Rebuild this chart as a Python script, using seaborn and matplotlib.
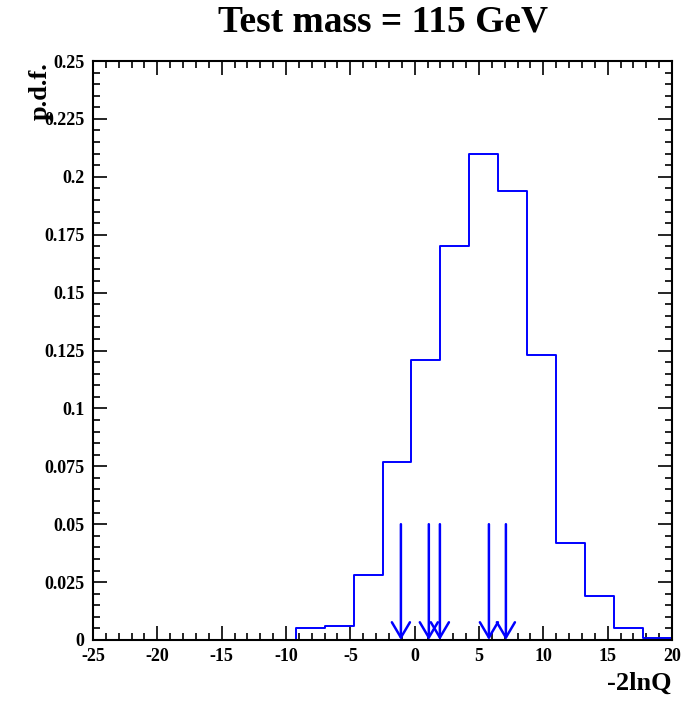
import numpy as np
import pandas as pd
import matplotlib
matplotlib.use("Agg")
import matplotlib.pyplot as plt
from matplotlib.ticker import MultipleLocator
import seaborn as sns

# histogram of -2lnQ, 20 bins from -25 to 20
bin_edges = list(np.linspace(-25, 20, 21))
pdf_values = [0, 0, 0, 0, 0, 0, 0, 0.005, 0.006, 0.028,
              0.077, 0.121, 0.170, 0.210, 0.194, 0.123, 0.042, 0.019, 0.005, 0.001]
# observed values marked with arrows
observed = [-1.07, 1.1, 1.96, 5.77, 7.09]

sns.set_style("ticks")
plt.rcParams['font.family'] = ['Liberation Serif', 'DejaVu Serif']
plt.rcParams['font.weight'] = 'bold'
plt.rcParams['text.color'] = 'black'
plt.rcParams['xtick.color'] = 'black'
plt.rcParams['ytick.color'] = 'black'
plt.rcParams['axes.unicode_minus'] = False

centers = [(a + b) / 2 for a, b in zip(bin_edges[:-1], bin_edges[1:])]
df = pd.DataFrame({"x": centers, "w": pdf_values})

fig = plt.figure(figsize=(6.92, 7.06), dpi=100)
ax = fig.add_axes([93/692, 1 - 640/706, 579/692, 579/706])

sns.histplot(data=df, x="x", weights="w", bins=bin_edges, element="step",
             fill=False, color="#0000ff", linewidth=1.4, ax=ax)

for xv in observed:
    ax.annotate("", xy=(xv, 0), xytext=(xv, 0.05),
                arrowprops=dict(arrowstyle="->,head_length=1.1,head_width=0.65",
                                color="#0000ff", lw=1.8, shrinkA=0, shrinkB=0))

ax.set_xlim(-25, 20)
ax.set_ylim(0, 0.25)
ax.xaxis.set_major_locator(MultipleLocator(5))
ax.xaxis.set_minor_locator(MultipleLocator(1))
ax.yaxis.set_minor_locator(MultipleLocator(0.005))
ax.set_yticks(np.arange(0, 0.2501, 0.025))
ax.set_yticklabels(['0', '0.025', '0.05', '0.075', '0.1', '0.125', '0.15',
                    '0.175', '0.2', '0.225', '0.25'])
ax.tick_params(which='both', direction='in', top=True, right=True,
               labelsize=13, width=1.2, pad=6, colors='black')
ax.tick_params(which='major', length=10)
ax.tick_params(which='minor', length=5)
for s in ax.spines.values():
    s.set_linewidth(1.5)
    s.set_color("black")

ax.set_xlabel("")
ax.set_ylabel("")
fig.text(672/692, 1 - 683/706, "-2lnQ", ha='right', va='center',
         fontsize=19, fontweight='bold')
fig.text(40/692, 1 - 91/706, "p.d.f.", ha='center', va='center', rotation=90,
         fontsize=19, fontweight='bold')
fig.text(383/692, 1 - 22/706, "Test mass = 115 GeV", ha='center', va='center',
         fontsize=27, fontweight='bold')

fig.savefig("out.png", dpi=100)
